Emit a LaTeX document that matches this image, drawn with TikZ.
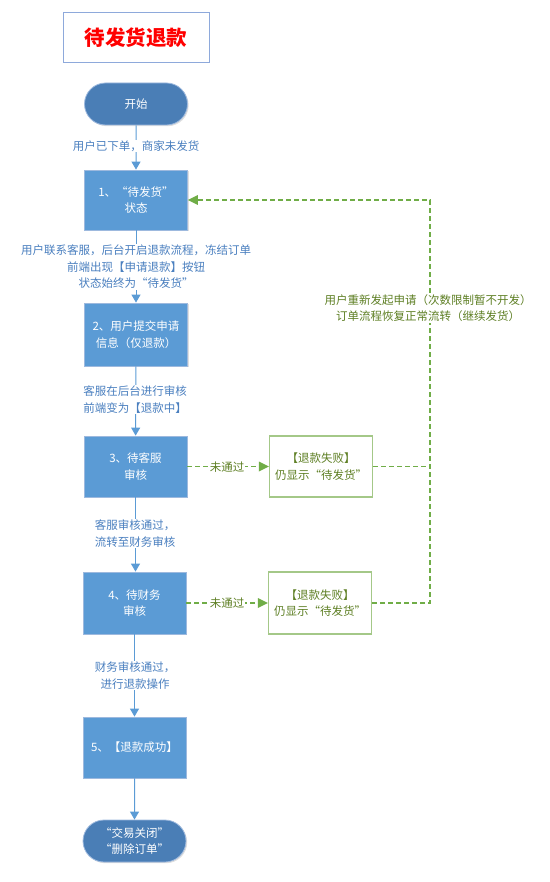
\documentclass[tikz,border=0pt]{standalone}
\usepackage{fontspec}
\setmainfont{Noto Sans CJK SC}
\usetikzlibrary{shapes.misc,arrows.meta,shadows}
\definecolor{boxblue}{HTML}{5B9BD5}
\definecolor{boxedge}{HTML}{9DB9DE}
\definecolor{titleedge}{HTML}{8EA9DB}
\definecolor{termblue}{HTML}{4A7EB6}
\definecolor{lblblue}{HTML}{4A7FBF}
\definecolor{dgreen}{HTML}{70AD47}
\definecolor{fedge}{HTML}{A4C888}
\definecolor{ftext}{HTML}{5E7F24}
\begin{document}
\begin{tikzpicture}[x=1pt,y=-1pt,
  every node/.style={font=\fontsize{11.5}{16.5}\selectfont, align=center, inner sep=0pt},
  procbox/.style={draw=boxedge, line width=0.8pt, fill=boxblue, text=white, minimum width=103pt, minimum height=61pt,
     drop shadow={shadow xshift=1.2pt, shadow yshift=-1.2pt, opacity=0.25}},
  termbox/.style={rounded rectangle, draw=boxedge, line width=0.8pt, fill=termblue, text=white, minimum width=103pt, minimum height=42pt,
     drop shadow={shadow xshift=1.2pt, shadow yshift=-1.2pt, opacity=0.25}},
  failbox/.style={draw=fedge, line width=1.4pt, fill=white, text=ftext, minimum width=103pt, minimum height=61pt},
  lbl/.style={fill=white, text=lblblue, inner sep=1pt},
  glbl/.style={fill=white, text=ftext, inner sep=1pt},
  flow/.style={draw=boxblue, line width=1pt, -{Triangle[width=9pt,length=8pt]}},
  gflow/.style={draw=dgreen, line width=1.6pt, dash pattern=on 5pt off 3pt},
]
\useasboundingbox (0,0) rectangle (549,882);

% title
\node[draw=titleedge, line width=1pt, minimum width=146pt, minimum height=50pt, text=red,
      font=\fontsize{20.5}{24}\selectfont\bfseries] (title) at (136,38) {待发货退款};

% main nodes
\node[termbox] (start) at (136,104) {开始};
\node[procbox, minimum height=60pt] (b1) at (136,200) {1、“待发货”\\状态};
\node[procbox, minimum height=63pt] (b2) at (136,334.5) {2、用户提交申请\\信息（仅退款）};
\node[procbox] (b3) at (135.5,466.5) {3、待客服\\审核};
\node[procbox, minimum height=62pt] (b4) at (134.5,603) {4、待财务\\审核};
\node[procbox] (b5) at (134.5,747.5) {5、【退款成功】};
\node[termbox] (end) at (134.5,841) {“交易关闭”\\“删除订单”};

\node[failbox] (f1) at (321,466.5) {【退款失败】\\仍显示“待发货”};
\node[failbox, minimum height=62pt] (f2) at (320,603) {【退款失败】\\仍显示“待发货”};

\coordinate (ct) at (430,200);

% blue flows
\draw[flow] (start) -- (b1);
\draw[flow] (b1) -- (b2);
\draw[flow] (b2) -- (b3);
\draw[flow] (b3) -- (b3 |- b4.north);
\draw[flow] (b4) -- (b5);
\draw[flow] (b5) -- (end);

% green dashed flows
\draw[gflow] (f1.east) -- (f1.east -| ct);
\draw[gflow] (f2.east) -| (ct) -- ([xshift=9pt]b1.east);
\draw[draw=none, fill=dgreen] (b1.east) -- ++(10pt,-5pt) -- ++(0,10pt) -- cycle;
\node[glbl] (r1) at (428,308) {用户重新发起申请（次数限制暂不开发）\\订单流程恢复正常流转（继续发货）};

\draw[gflow] (b3.east) -- ([xshift=-9pt]f1.west);
\fill[dgreen] (f1.west) -- ++(-10pt,-5pt) -- ++(0,10pt) -- cycle;
\draw[gflow] (b4.east) -- ([xshift=-9pt]f2.west);
\fill[dgreen] (f2.west) -- ++(-10pt,-5pt) -- ++(0,10pt) -- cycle;
\node[glbl] (n1) at (227,467) {未通过};
\node[glbl] (n2) at (227,603) {未通过};

% blue labels
\node[lbl] (l1) at (136,146) {用户已下单，商家未发货};
\node[lbl] (l2) at (136,267) {用户联系客服，后台开启退款流程，冻结订单\\前端出现【申请退款】按钮\\状态始终为“待发货”};
\node[lbl] (l3) at (135,399.5) {客服在后台进行审核\\前端变为【退款中】};
\node[lbl] (l4) at (135,533.5) {客服审核通过，\\流转至财务审核};
\node[lbl] (l5) at (135,675.5) {财务审核通过，\\进行退款操作};
\end{tikzpicture}
\end{document}
